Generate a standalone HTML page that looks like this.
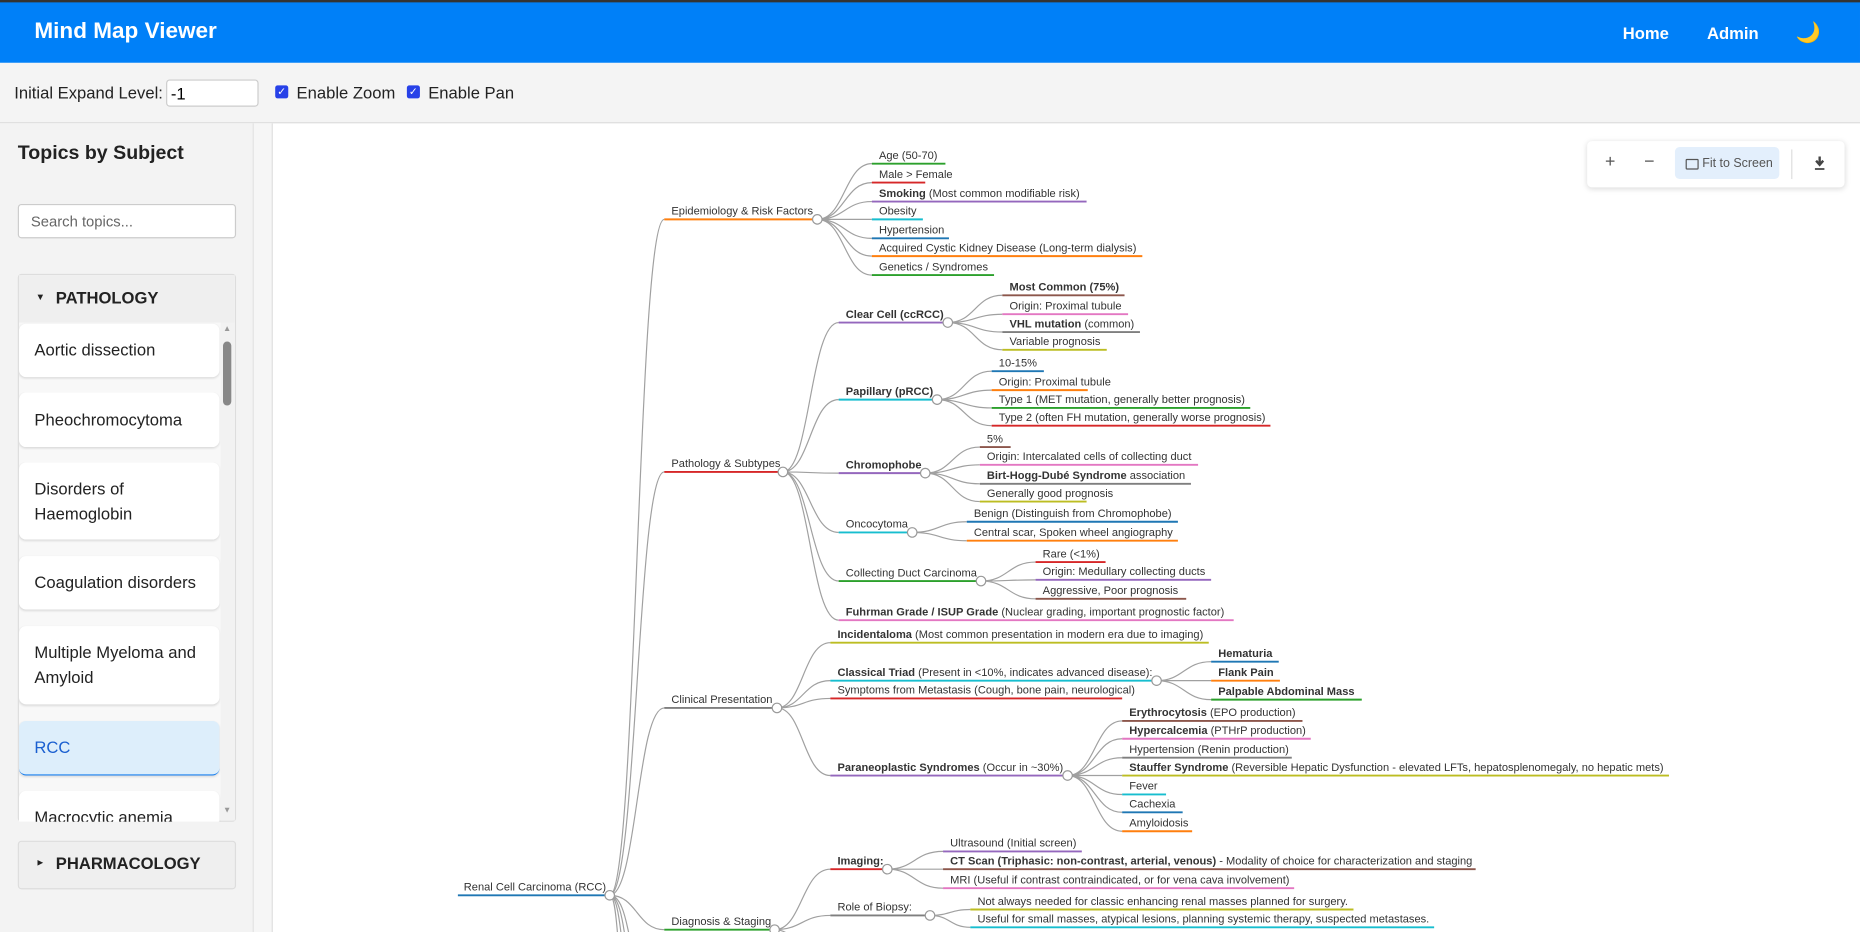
<!DOCTYPE html>
<html><head><meta charset="utf-8">
<style>
html,body{margin:0;padding:0;width:1860px;height:932px;overflow:hidden;background:#fff;font-family:"Liberation Sans",Arial,sans-serif;}
#w{position:absolute;left:0;top:0;width:1568px;height:786px;transform:scale(1.18622,1.1858);transform-origin:0 0;overflow:hidden;}
.abs{position:absolute;}
#hdr{left:0;top:0;width:1568px;height:53px;background:#0080f8;border-top:2px solid #333;box-sizing:border-box;}
#hdr .t{left:29px;top:14px;color:#fff;font-weight:bold;font-size:19px;}
#hdr .n{top:18px;color:#fff;font-size:14px;font-weight:bold;}
#tb{left:0;top:53px;width:1568px;height:50px;background:#f4f4f4;border-bottom:1px solid #ddd;}
.lbl{font-size:14px;color:#222;}
.cb{width:11px;height:11px;background:#2741e8;border-radius:2px;color:#fff;font-size:9px;line-height:11px;text-align:center;}
#sb{left:0;top:104px;width:213px;height:682px;background:#f3f3f3;border-right:1px solid #e2e2e2;}
#gut{left:214px;top:104px;width:15px;height:682px;background:#f6f6f6;border-right:1px solid #e0e0e0;}
.card{left:16px;width:169px;background:#fff;border-radius:6px;box-shadow:0 1px 2px rgba(0,0,0,.12);font-size:14px;color:#222;box-sizing:border-box;padding:0 13px;line-height:21px;display:flex;align-items:center;}
svg text{font-family:"Liberation Sans",Arial,sans-serif;font-size:9.35px;fill:#333;}
</style></head><body>
<div id="w">
<div id="hdr" class="abs">
 <div class="abs t">Mind Map Viewer</div>
 <div class="abs n" style="left:1368px">Home</div>
 <div class="abs n" style="left:1439px">Admin</div>
 <div class="abs" style="left:1514px;top:16px;font-size:17px;color:#f5d300">🌙</div>
</div>
<div id="tb" class="abs">
 <div class="abs lbl" style="left:12px;top:17px">Initial Expand Level:</div>
 <div class="abs" style="left:140px;top:14px;width:78px;height:23px;background:#fff;border:1px solid #ccc;border-radius:3px;font-size:14px;line-height:22px;padding-left:3px;box-sizing:border-box;">-1</div>
 <div class="abs cb" style="left:232px;top:19px">✓</div>
 <div class="abs lbl" style="left:250px;top:17px">Enable Zoom</div>
 <div class="abs cb" style="left:343px;top:19px">✓</div>
 <div class="abs lbl" style="left:361px;top:17px">Enable Pan</div>
</div>
<div id="sb" class="abs">
 <div class="abs" style="left:15px;top:16px;font-size:16.5px;font-weight:bold;color:#222">Topics by Subject</div>
 <div class="abs" style="left:15px;top:68px;width:184px;height:29px;background:#fff;border:1px solid #ccc;border-radius:3px;box-sizing:border-box;font-size:12.5px;color:#666;padding:7px 10px">Search topics...</div>
 <div class="abs" style="left:15px;top:127px;width:184px;height:462px;border:1px solid #ddd;border-radius:3px;box-sizing:border-box;background:#f8f8f8"></div>
 <div class="abs" style="left:16px;top:128px;width:182px;height:40px;background:#efefef;"></div>
 <div class="abs" style="left:30px;top:142px;font-size:8px;color:#222">▼</div>
 <div class="abs" style="left:47px;top:139px;font-size:14px;font-weight:bold;color:#222">PATHOLOGY</div>
 <div class="abs" style="left:186px;top:168px;width:12px;height:420px;background:#f2f2f2"></div>
 <div class="abs" style="left:188px;top:170px;font-size:7px;color:#999">▲</div>
 <div class="abs" style="left:188px;top:184px;width:7px;height:54px;background:#888;border-radius:4px"></div>
 <div class="abs" style="left:188px;top:576px;font-size:7px;color:#999">▼</div>
 <div class="abs" style="left:16px;top:168px;width:170px;height:421px;overflow:hidden;">
  <div class="abs card" style="left:0;top:1px;height:45px">Aortic dissection</div>
  <div class="abs card" style="left:0;top:59px;height:46px">Pheochromocytoma</div>
  <div class="abs card" style="left:0;top:118px;height:65px">Disorders of Haemoglobin</div>
  <div class="abs card" style="left:0;top:197px;height:45px">Coagulation disorders</div>
  <div class="abs card" style="left:0;top:256px;height:66px">Multiple Myeloma and Amyloid</div>
  <div class="abs card" style="left:0;top:336px;height:46px;background:#ddeefb;color:#1a5fd0;border-bottom:1.5px solid #1a80f0">RCC</div>
  <div class="abs card" style="left:0;top:395px;height:46px;align-items:flex-start;padding-top:12px">Macrocytic anemia</div>
 </div>
 <div class="abs" style="left:15px;top:605px;width:184px;height:41px;background:#efefef;border:1px solid #ddd;border-radius:3px;box-sizing:border-box"></div>
 <div class="abs" style="left:30px;top:619px;font-size:8px;color:#222">►</div>
 <div class="abs" style="left:47px;top:616px;font-size:14px;font-weight:bold;color:#222">PHARMACOLOGY</div>
</div>
<div id="gut" class="abs"></div>

<svg class="abs" style="left:0;top:0" width="1568" height="786" viewBox="0 0 1568 786">
<g fill="none" stroke="#a0a0a0" stroke-width="1">
<path d="M514 755C537 755 537 185 560 185M514 755C537 755 537 398 560 398M514 755C537 755 537 597 560 597M514 755C537 755 537 784 560 784M514 755C526 755 529 786 531 790M514 755C523 755 526 786 527 790M514 755C521 755 523 786 524 790M514 755C519 755 520 786 521 790"/>
<path d="M689 185C712 185 712 138 735 138M689 185C712 185 712 154 735 154M689 185C712 185 712 170 735 170M689 185H735M689 185C712 185 712 201 735 201M689 185C712 185 712 216 735 216M689 185C712 185 712 232 735 232"/>
<path d="M660 398C683 398 683 272 707 272M660 398C683 398 683 337 707 337M660 398C683 398 683 399 707 399M660 398C683 398 683 449 707 449M660 398C683 398 683 490 707 490M660 398C683 398 683 523 707 523"/>
<path d="M799 272C822 272 822 249 845 249M799 272C822 272 822 265 845 265M799 272C822 272 822 280 845 280M799 272C822 272 822 295 845 295"/>
<path d="M790 337C813 337 813 313 836 313M790 337C813 337 813 329 836 329M790 337C813 337 813 344 836 344M790 337C813 337 813 359 836 359"/>
<path d="M780 399C803 399 803 377 826 377M780 399C803 399 803 392 826 392M780 399C803 399 803 408 826 408M780 399C803 399 803 423 826 423"/>
<path d="M769 449C792 449 792 440 815 440M769 449C792 449 792 456 815 456"/>
<path d="M827 490C850 490 850 474 873 474M827 490C850 490 850 489 873 489M827 490C850 490 850 505 873 505"/>
<path d="M655 597C677 597 677 542 700 542M655 597C677 597 677 574 700 574M655 597C677 597 677 589 700 589M655 597C677 597 677 654 700 654"/>
<path d="M975 574C998 574 998 558 1021 558M975 574H1021M975 574C998 574 998 590 1021 590"/>
<path d="M900 654C923 654 923 608 946 608M900 654C923 654 923 623 946 623M900 654C923 654 923 639 946 639M900 654H946M900 654C923 654 923 670 946 670M900 654C923 654 923 685 946 685M900 654C923 654 923 701 946 701"/>
<path d="M653 784C676 784 676 733 700 733M653 784C676 784 676 772 700 772M653 784C660 784 664 787 667 790"/>
<path d="M748 733C771 733 771 718 795 718M748 733H795M748 733C771 733 771 749 795 749"/>
<path d="M784 772C801 772 801 767 818 767M784 772C801 772 801 782 818 782"/>
</g>
<g fill="none" stroke-width="1.6">
<path stroke="#1f77b4" d="M386 755H514"/>
<path stroke="#ff7f0e" d="M560 185H689"/>
<path stroke="#d62728" d="M560 398H660"/>
<path stroke="#7f7f7f" d="M560 597H655"/>
<path stroke="#2ca02c" d="M560 784H653"/>
<path stroke="#2ca02c" d="M735 138H797"/><path stroke="#d62728" d="M735 154H780"/><path stroke="#9467bd" d="M735 170H916"/><path stroke="#17becf" d="M735 185H778"/><path stroke="#1f77b4" d="M735 201H800"/><path stroke="#ff7f0e" d="M735 216H963"/><path stroke="#2ca02c" d="M735 232H838"/>
<path stroke="#9467bd" d="M707 272H799"/><path stroke="#17becf" d="M707 337H790"/><path stroke="#9467bd" d="M707 399H780"/><path stroke="#17becf" d="M707 449H769"/><path stroke="#2ca02c" d="M707 490H827"/><path stroke="#e377c2" d="M707 523H1040"/>
<path stroke="#8c564b" d="M845 249H948"/><path stroke="#e377c2" d="M845 265H951"/><path stroke="#7f7f7f" d="M845 280H961"/><path stroke="#bcbd22" d="M845 295H933"/>
<path stroke="#1f77b4" d="M836 313H880"/><path stroke="#ff7f0e" d="M836 329H917"/><path stroke="#2ca02c" d="M836 344H1054"/><path stroke="#d62728" d="M836 359H1071"/>
<path stroke="#8c564b" d="M826 377H852"/><path stroke="#e377c2" d="M826 392H1010"/><path stroke="#7f7f7f" d="M826 408H1004"/><path stroke="#bcbd22" d="M826 423H916"/>
<path stroke="#1f77b4" d="M815 440H993"/><path stroke="#ff7f0e" d="M815 456H993"/>
<path stroke="#d62728" d="M873 474H932"/><path stroke="#9467bd" d="M873 489H1021"/><path stroke="#8c564b" d="M873 505H1000"/>
<path stroke="#bcbd22" d="M700 542H1019"/><path stroke="#17becf" d="M700 574H975"/><path stroke="#d62728" d="M700 589H946"/><path stroke="#9467bd" d="M700 654H900"/>
<path stroke="#1f77b4" d="M1021 558H1078"/><path stroke="#ff7f0e" d="M1021 574H1079"/><path stroke="#2ca02c" d="M1021 590H1148"/>
<path stroke="#8c564b" d="M946 608H1098"/><path stroke="#e377c2" d="M946 623H1105"/><path stroke="#7f7f7f" d="M946 639H1089"/><path stroke="#bcbd22" d="M946 654H1407"/><path stroke="#17becf" d="M946 670H983"/><path stroke="#1f77b4" d="M946 685H997"/><path stroke="#ff7f0e" d="M946 701H1005"/>
<path stroke="#d62728" d="M700 733H748"/><path stroke="#7f7f7f" d="M700 772H784"/>
<path stroke="#9467bd" d="M795 718H912"/><path stroke="#8c564b" d="M795 733H1244"/><path stroke="#e377c2" d="M795 749H1091"/>
<path stroke="#bcbd22" d="M818 767H1141"/><path stroke="#17becf" d="M818 782H1209"/>
</g>
<g fill="#fff" stroke="#999" stroke-width="1">
<circle cx="514" cy="755" r="4"/><circle cx="689" cy="185" r="4"/><circle cx="660" cy="398" r="4"/><circle cx="655" cy="597" r="4"/><circle cx="653" cy="784" r="4"/>
<circle cx="799" cy="272" r="4"/><circle cx="790" cy="337" r="4"/><circle cx="780" cy="399" r="4"/><circle cx="769" cy="449" r="4"/><circle cx="827" cy="490" r="4"/>
<circle cx="975" cy="574" r="4"/><circle cx="900" cy="654" r="4"/><circle cx="748" cy="733" r="4"/><circle cx="784" cy="772" r="4"/>
</g>
<text x="391" y="751">Renal Cell Carcinoma (RCC)</text>
<text x="566" y="181">Epidemiology &amp; Risk Factors</text>
<text x="566" y="394">Pathology &amp; Subtypes</text>
<text x="566" y="593">Clinical Presentation</text>
<text x="566" y="780">Diagnosis &amp; Staging</text>
<text x="741" y="134">Age (50-70)</text>
<text x="741" y="150">Male &gt; Female</text>
<text x="741" y="166"><tspan font-weight="bold">Smoking</tspan> (Most common modifiable risk)</text>
<text x="741" y="181">Obesity</text>
<text x="741" y="197">Hypertension</text>
<text x="741" y="212">Acquired Cystic Kidney Disease (Long-term dialysis)</text>
<text x="741" y="228">Genetics / Syndromes</text>
<text x="713" y="268" font-weight="bold">Clear Cell (ccRCC)</text>
<text x="713" y="333" font-weight="bold">Papillary (pRCC)</text>
<text x="713" y="395" font-weight="bold">Chromophobe</text>
<text x="713" y="445">Oncocytoma</text>
<text x="713" y="486">Collecting Duct Carcinoma</text>
<text x="713" y="519"><tspan font-weight="bold">Fuhrman Grade / ISUP Grade</tspan> (Nuclear grading, important prognostic factor)</text>
<text x="851" y="245" font-weight="bold">Most Common (75%)</text>
<text x="851" y="261">Origin: Proximal tubule</text>
<text x="851" y="276"><tspan font-weight="bold">VHL mutation</tspan> (common)</text>
<text x="851" y="291">Variable prognosis</text>
<text x="842" y="309">10-15%</text>
<text x="842" y="325">Origin: Proximal tubule</text>
<text x="842" y="340">Type 1 (MET mutation, generally better prognosis)</text>
<text x="842" y="355">Type 2 (often FH mutation, generally worse prognosis)</text>
<text x="832" y="373">5%</text>
<text x="832" y="388">Origin: Intercalated cells of collecting duct</text>
<text x="832" y="404"><tspan font-weight="bold">Birt-Hogg-Dubé Syndrome</tspan> association</text>
<text x="832" y="419">Generally good prognosis</text>
<text x="821" y="436">Benign (Distinguish from Chromophobe)</text>
<text x="821" y="452">Central scar, Spoken wheel angiography</text>
<text x="879" y="470">Rare (&lt;1%)</text>
<text x="879" y="485">Origin: Medullary collecting ducts</text>
<text x="879" y="501">Aggressive, Poor prognosis</text>
<text x="706" y="538"><tspan font-weight="bold">Incidentaloma</tspan> (Most common presentation in modern era due to imaging)</text>
<text x="706" y="570"><tspan font-weight="bold">Classical Triad</tspan> (Present in &lt;10%, indicates advanced disease):</text>
<text x="706" y="585">Symptoms from Metastasis (Cough, bone pain, neurological)</text>
<text x="706" y="650"><tspan font-weight="bold">Paraneoplastic Syndromes</tspan> (Occur in ~30%)</text>
<text x="1027" y="554" font-weight="bold">Hematuria</text>
<text x="1027" y="570" font-weight="bold">Flank Pain</text>
<text x="1027" y="586" font-weight="bold">Palpable Abdominal Mass</text>
<text x="952" y="604"><tspan font-weight="bold">Erythrocytosis</tspan> (EPO production)</text>
<text x="952" y="619"><tspan font-weight="bold">Hypercalcemia</tspan> (PTHrP production)</text>
<text x="952" y="635">Hypertension (Renin production)</text>
<text x="952" y="650"><tspan font-weight="bold">Stauffer Syndrome</tspan> (Reversible Hepatic Dysfunction - elevated LFTs, hepatosplenomegaly, no hepatic mets)</text>
<text x="952" y="666">Fever</text>
<text x="952" y="681">Cachexia</text>
<text x="952" y="697">Amyloidosis</text>
<text x="706" y="729" font-weight="bold">Imaging:</text>
<text x="706" y="768">Role of Biopsy:</text>
<text x="801" y="714">Ultrasound (Initial screen)</text>
<text x="801" y="729"><tspan font-weight="bold">CT Scan (Triphasic: non-contrast, arterial, venous)</tspan> - Modality of choice for characterization and staging</text>
<text x="801" y="745">MRI (Useful if contrast contraindicated, or for vena cava involvement)</text>
<text x="824" y="763">Not always needed for classic enhancing renal masses planned for surgery.</text>
<text x="824" y="778">Useful for small masses, atypical lesions, planning systemic therapy, suspected metastases.</text>
</svg>

<div class="abs" style="left:1338px;top:119px;width:217px;height:39px;background:#fff;border-radius:4px;box-shadow:0 1px 5px rgba(0,0,0,.15)">
 <div class="abs" style="left:15px;top:9px;font-size:15px;color:#555">+</div>
 <div class="abs" style="left:48px;top:9px;font-size:15px;color:#555">−</div>
 <div class="abs" style="left:74px;top:5px;width:88px;height:27px;background:#e3effc;border-radius:4px"></div>
 <div class="abs" style="left:83px;top:15px;width:9px;height:7px;border:1.3px solid #555;border-radius:1px"></div>
 <div class="abs" style="left:97px;top:13px;font-size:10.5px;color:#555">Fit to Screen</div>
 <div class="abs" style="left:172px;top:7px;width:1px;height:25px;background:#ddd"></div>
 <svg class="abs" style="left:191px;top:13px" width="10" height="12" viewBox="0 0 10 12"><path d="M5 0V6M2 3.5L5 7L8 3.5" stroke="#444" stroke-width="2" fill="none"/><path d="M1 10.5H9" stroke="#444" stroke-width="1.5"/></svg>
</div>
</div>
</body></html>
